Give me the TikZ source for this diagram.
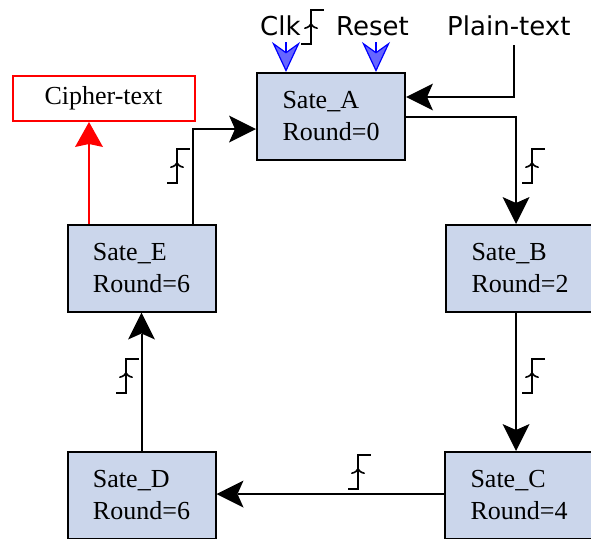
\documentclass[tikz,border=0pt]{standalone}
\usepackage{fontspec}
\setmainfont{Liberation Serif}
\newfontfamily\labelfont{DejaVu Sans}
\usetikzlibrary{arrows.meta}

\definecolor{statefill}{RGB}{203,214,235}

\tikzset{
  statebox/.style={draw=black, line width=2pt, fill=statefill,
    minimum width=148pt, minimum height=87pt, align=left,
    inner sep=0pt, font=\fontsize{26}{32}\selectfont},
  outbox/.style={draw=red, line width=2pt, fill=white,
    minimum width=182pt, minimum height=45pt, inner sep=0pt,
    font=\fontsize{26}{32}\selectfont},
  sigtext/.style={anchor=base west, inner sep=0pt,
    font=\labelfont\fontsize{26}{32}\selectfont},
  headblack/.tip={Stealth[length=27pt, width=27pt, inset=6pt, line width=0pt]},
  headred/.tip={Stealth[length=25pt, width=28pt, inset=3pt, line width=0pt, fill=red]},
  headblue/.tip={Stealth[length=30pt, width=28pt, inset=10pt, line width=1.2pt, fill=blue!60]},
  edgehead/.tip={To[length=6pt, width=14pt, line width=1.6pt]},
  flow/.style={line width=2pt, -headblack},
  redflow/.style={draw=red, line width=2pt, -headred},
  inarrow/.style={draw=blue, line width=1.2pt, -headblue},
  pics/clocksym/.style={code={
    \draw[line width=2pt] (0,0) -- (10,0) -- (10,-34) -- (23,-34);
    \draw[line width=1.6pt, -edgehead] (10,0) -- (10,-21);
  }}
}

\begin{document}
\begin{tikzpicture}[x=1pt, y=-1pt]
  \useasboundingbox (0,0) rectangle (591,538);
  \clip (0,0) rectangle (591,538);

  % state registers
  \node[statebox] (A) at (331,116.5) {Sate\_A\\Round=0};
  \node[statebox] (B) at (520,268.5) {Sate\_B\\Round=2};
  \node[statebox] (C) at (519,495.5) {Sate\_C\\Round=4};
  \node[statebox] (D) at (141.5,495.5) {Sate\_D\\Round=6};
  \node[statebox] (E) at (141.5,268) {Sate\_E\\Round=6};
  \node[outbox] (ct) at (103.5,98.5) {Cipher-text};

  % input signal labels
  \node[sigtext] (clk) at (260,35) {Clk};
  \node[sigtext] (rst) at (336,35) {Reset};
  \node[sigtext] (pt) at (447,35) {Plain-text};

  \coordinate (clkin) at (286,42);
  \coordinate (rstin) at (376,42);
  \coordinate (ptin) at (514,45);
  \coordinate (ptbend) at (514,97);
  \coordinate (abend) at (516,117);
  \coordinate (eabend) at (193,129);

  % clock and reset inputs
  \draw[inarrow] (clkin) -- (clkin |- A.north);
  \draw[inarrow] (rstin) -- (rstin |- A.north);

  % plain-text load
  \draw[flow] (ptin) -- (ptbend) -- (ptbend -| A.east);

  % round transitions
  \draw[flow] (abend -| A.east) -- (abend) -- (abend |- B.north);
  \draw[flow] (B.south -| abend) -- (C.north -| abend);
  \draw[flow] (C.west |- 0,494) -- (D.east |- 0,494);
  \draw[flow] (D.north) -- (E.south);
  \draw[flow] (E.north -| eabend) -- (eabend) -- (eabend -| A.west);

  % output
  \draw[redflow] (E.north -| 89,0) -- (ct.south -| 89,0);

  % clock edge symbols
  \pic at (301,44) {clocksym};
  \pic at (167,183) {clocksym};
  \pic at (522,183) {clocksym};
  \pic at (522,393) {clocksym};
  \pic at (116,393) {clocksym};
  \pic at (348,489) {clocksym};
\end{tikzpicture}
\end{document}
